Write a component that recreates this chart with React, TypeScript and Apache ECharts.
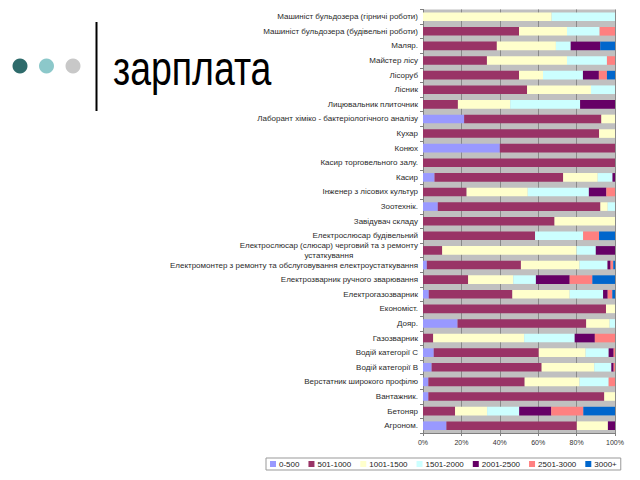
import React, { useEffect, useRef } from "react";
import * as echarts from "echarts";

const categories = [
  "Машиніст бульдозера (гірничі роботи)",
  "Машиніст бульдозера (будівельні роботи)",
  "Маляр.",
  "Майстер лісу",
  "Лісоруб",
  "Лісник",
  "Лицювальник плиточник",
  "Лаборант хіміко - бактеріологічного аналізу",
  "Кухар",
  "Конюх",
  "Касир торговельного залу.",
  "Касир",
  "Інженер з лісових культур",
  "Зоотехнік.",
  "Завідувач складу",
  "Електрослюсар будівельний",
  "Електрослюсар (слюсар) черговий та з ремонту устаткування",
  "Електромонтер з ремонту та обслуговування електроустаткування",
  "Електрозварник ручного зварювання",
  "Електрогазозварник",
  "Економіст.",
  "Дояр.",
  "Газозварник",
  "Водій категорії С",
  "Водій категорії В",
  "Верстатник широкого профілю",
  "Вантажник.",
  "Бетоняр",
  "Агроном.",
];

const seriesNames = ["0-500", "501-1000", "1001-1500", "1501-2000", "2001-2500", "2501-3000", "3000+"];
const seriesColors = ["#9999FF", "#993366", "#FFFFCC", "#CCFFFF", "#660066", "#FF8080", "#0066CC"];

const s0to500 = [0, 0, 0, 0, 0, 0, 0, 21.4, 0, 40, 0, 6, 0, 7.7, 0, 0, 0, 2, 0, 3, 0, 18, 0, 5.6, 4.5, 2.8, 2.8, 0, 12.2];
const s501to1000 = [0, 50, 38.5, 33.3, 50, 54.2, 18.2, 71.4, 91.7, 60, 100, 67, 22.7, 84.6, 68.5, 58.3, 10, 49, 23.5, 43.5, 95.3, 67, 5.3, 54.7, 57.3, 50.2, 91.6, 16.7, 68];
const s1001to1500 = [67, 25, 30.8, 41.7, 12.5, 33.3, 27.3, 7.1, 8.3, 0, 0, 18, 31.8, 3.8, 31.5, 0, 70, 30.5, 23.5, 29.8, 4.7, 12.2, 47.4, 24.4, 27.4, 28.6, 5.6, 16.7, 16.2];
const s1501to2000 = [33, 17, 7.7, 20.8, 20.8, 12.5, 36.4, 0, 0, 0, 0, 7.7, 31.8, 3.8, 0, 25, 10, 14.6, 11.8, 17.4, 0, 2.8, 26.3, 12, 8.9, 15.2, 0, 16.7, 0];
const s2001to2500 = [0, 0, 15.4, 0, 8.3, 0, 18.2, 0, 0, 0, 0, 1.3, 9.1, 0, 0, 0, 10, 1.6, 17.6, 2.4, 0, 0, 10.5, 2.6, 1.2, 0, 0, 16.7, 3.7];
const s2501to3000 = [0, 8, 0, 4.2, 4.2, 0, 0, 0, 0, 0, 0, 0, 4.5, 0, 0, 8.3, 0, 1.4, 11.8, 2.4, 0, 0, 10.5, 0.7, 0.7, 3.3, 0, 16.7, 0];
const s3000plus = [0, 0, 7.7, 0, 4.2, 0, 0, 0, 0, 0, 0, 0, 0, 0, 0, 8.3, 0, 0.9, 11.8, 1.4, 0, 0, 0, 0, 0, 0, 0, 16.5, 0];

const xTicks = [0, 20, 40, 60, 80, 100];

export default function App() {
  const ref = useRef<HTMLDivElement>(null);
  useEffect(() => {
    if (!ref.current) return;
    const chart = echarts.init(ref.current, null, { renderer: "svg" });
    const all = [s0to500, s501to1000, s1001to1500, s1501to2000, s2001to2500, s2501to3000, s3000plus];
    const totals = categories.map((_, i) => all.reduce((a, s) => a + s[i], 0));
    const font = "'Liberation Sans', Arial, sans-serif";
    const labelStyle = { fontSize: 8, fontFamily: font, color: "#2a2a2a", lineHeight: 9.5 };
    chart.setOption({
      animation: false,
      backgroundColor: "#ffffff",
      graphic: [
        { type: "circle", shape: { cx: 20, cy: 66, r: 7.5 }, style: { fill: "#2E6B6B" } },
        { type: "circle", shape: { cx: 46.5, cy: 66, r: 7.5 }, style: { fill: "#8CC8CA" } },
        { type: "circle", shape: { cx: 73, cy: 66, r: 7.5 }, style: { fill: "#C8C8C8" } },
        { type: "rect", shape: { x: 95.5, y: 22, width: 2, height: 89 }, style: { fill: "#000" } },
        {
          type: "text",
          x: 113,
          y: 68,
          scaleX: 0.78,
          style: {
            text: "зарплата",
            fontSize: 48,
            fontFamily: font,
            fill: "#000",
            verticalAlign: "middle",
            align: "left",
          },
        },
      ],
      grid: {
        left: 423,
        right: 25,
        top: 9.4,
        bottom: 47,
        show: true,
        backgroundColor: "#C0C0C0",
        borderWidth: 0,
      },
      legend: {
        left: 266,
        top: 458,
        data: seriesNames,
        itemWidth: 6,
        itemHeight: 6,
        itemGap: 9,
        padding: [2, 4],
        borderColor: "#999",
        borderWidth: 1,
        textStyle: { fontSize: 8, fontFamily: font, color: "#222", padding: [0, 0, 0, -2] },
        icon: "rect",
      },
      xAxis: {
        type: "value",
        min: 0,
        max: 100,
        interval: 20,
        axisLine: { show: true, lineStyle: { color: "#808080" } },
        axisTick: { show: true, length: 3, lineStyle: { color: "#808080" } },
        axisLabel: {
          formatter: (v: number) => (xTicks.includes(v) ? v + "%" : ""),
          fontSize: 7,
          fontFamily: font,
          color: "#333",
          margin: 6,
        },
        splitLine: { show: true, lineStyle: { color: "#8a8a8a", width: 1 } },
      },
      yAxis: {
        type: "category",
        inverse: true,
        data: categories,
        axisLine: { show: true, lineStyle: { color: "#808080" } },
        axisTick: { show: true, length: 3, lineStyle: { color: "#808080" } },
        axisLabel: {
          ...labelStyle,
          margin: 5,
          interval: 0,
          formatter: (v: string) => {
            const cut = v.indexOf(" устаткування");
            if (cut > 0 && v.startsWith("Електрослюсар (")) {
              return "{r|" + v.slice(0, cut) + "}\n{c|" + v.slice(cut + 1) + "}";
            }
            return v;
          },
          rich: {
            r: { ...labelStyle, align: "right" },
            c: { ...labelStyle, align: "center" },
          },
        },
      },
      series: all.map((arr, k) => ({
        name: seriesNames[k],
        type: "bar",
        stack: "total",
        barWidth: "59%",
        itemStyle: { color: seriesColors[k] },
        data: arr.map((v, i) => (totals[i] ? (v / totals[i]) * 100 : 0)),
      })),
    });
    return () => chart.dispose();
  }, []);
  return (
    <div
      ref={ref}
      style={{ position: "fixed", left: 0, top: 0, width: 640, height: 480 }}
    />
  );
}
